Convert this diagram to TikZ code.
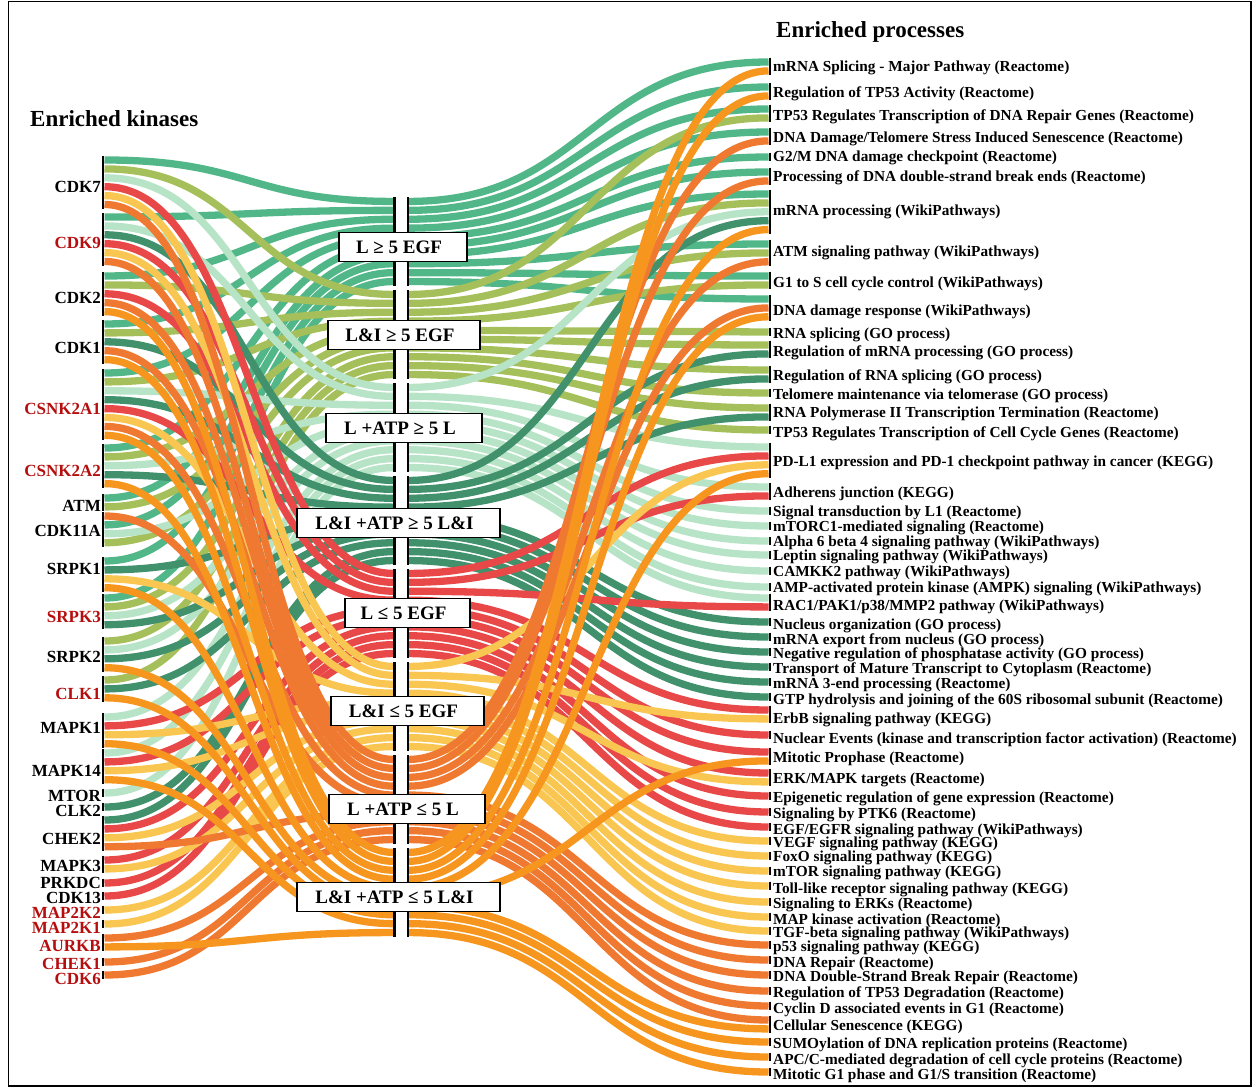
\documentclass[tikz,border=0pt]{standalone}
\usepackage{fontspec}
\setmainfont{Liberation Serif}

\pgfdeclarelayer{l1}\pgfdeclarelayer{l2}\pgfdeclarelayer{l3}\pgfdeclarelayer{l4}
\pgfdeclarelayer{l5}\pgfdeclarelayer{l6}\pgfdeclarelayer{l7}\pgfdeclarelayer{l8}
\pgfsetlayers{l1,l2,l3,l4,l5,l6,l7,l8,main}

% category colours
\definecolor{cat1}{RGB}{82,183,136}   % L >= 5 EGF
\definecolor{cat2}{RGB}{165,192,90}   % L&I >= 5 EGF
\definecolor{cat3}{RGB}{183,228,199}  % L +ATP >= 5 L
\definecolor{cat4}{RGB}{64,145,108}   % L&I +ATP >= 5 L&I
\definecolor{cat5}{RGB}{233,72,72}    % L <= 5 EGF
\definecolor{cat6}{RGB}{249,198,82}   % L&I <= 5 EGF
\definecolor{cat7}{RGB}{240,121,50}   % L +ATP <= 5 L
\definecolor{cat8}{RGB}{247,150,30}   % L&I +ATP <= 5 L&I
\definecolor{kred}{RGB}{182,14,14}

% geometry
\def\sp{8.9}\def\half{4.45}
\def\xL{104.5}\def\xML{394}\def\xMR{408}\def\xR{768.5}
\def\dxL{144.75}\def\dxR{180.25}
\foreach \q in {1,...,8}{%
  \pgfmathsetmacro\t{197+(\q-1)*93}%
  \expandafter\xdef\csname top\q\endcsname{\t}%
  \expandafter\xdef\csname nL\q\endcsname{0}%
  \expandafter\xdef\csname nR\q\endcsname{0}%
}

\tikzset{
  flow/.style={line width=7.3pt},
  axisline/.style={line width=2.6pt,black},
  klabel/.style={anchor=east,inner sep=0pt,yshift=-1pt,font=\bfseries\fontsize{17}{17}\selectfont},
  plabel/.style={anchor=west,inner sep=0pt,yshift=-1.5pt,font=\bfseries\fontsize{15.3}{15.3}\selectfont},
  header/.style={anchor=west,inner sep=0pt,font=\bfseries\fontsize{23}{23}\selectfont},
  catbox/.style={draw=black,line width=1.8pt,fill=white,minimum height=29pt,
    inner sep=0pt,font=\bfseries\fontsize{19}{19}\selectfont},
}

% kinase: id, text colour, label, label y, first flow y, categories
\newcommand\kin[6]{%
  \foreach \q [count=\i from 0] in {#6}{%
    \pgfmathsetmacro\ya{#5+\i*\sp}%
    \edef\nidx{\csname nL\q\endcsname}%
    \edef\topv{\csname top\q\endcsname}%
    \pgfmathsetmacro\yb{\topv+\half+\nidx*\sp}%
    \coordinate (#1-\i) at (\xL,\ya);
    \coordinate (mL\q-\nidx) at (\xML,\yb);
    \begin{pgfonlayer}{l\q}
      \draw[flow,draw=cat\q] (#1-\i) .. controls +(\dxL,0) and +(-\dxL,0) .. (mL\q-\nidx);
    \end{pgfonlayer}
    \pgfmathtruncatemacro\nn{\nidx+1}%
    \expandafter\xdef\csname nL\q\endcsname{\nn}%
    \xdef\klast{\i}%
  }
  \pgfmathsetmacro\ytop{#5-\half}%
  \pgfmathsetmacro\ybot{#5+\klast*\sp+\half}%
  \draw[axisline] (103,\ytop) -- (103,\ybot);
  \node[klabel,text=#2] (#1) at (101,#4) {#3};
}

% process: id, label, label y, first flow y, categories
\newcommand\proc[5]{%
  \foreach \q [count=\i from 0] in {#5}{%
    \pgfmathsetmacro\yb{#4+\i*\sp}%
    \edef\nidx{\csname nR\q\endcsname}%
    \edef\topv{\csname top\q\endcsname}%
    \pgfmathsetmacro\ya{\topv+\half+\nidx*\sp}%
    \coordinate (mR\q-\nidx) at (\xMR,\ya);
    \coordinate (#1-\i) at (\xR,\yb);
    \begin{pgfonlayer}{l\q}
      \draw[flow,draw=cat\q] (mR\q-\nidx) .. controls +(\dxR,0) and +(-\dxR,0) .. (#1-\i);
    \end{pgfonlayer}
    \pgfmathtruncatemacro\nn{\nidx+1}%
    \expandafter\xdef\csname nR\q\endcsname{\nn}%
    \xdef\klast{\i}%
  }
  \pgfmathsetmacro\ytop{#4-\half}%
  \pgfmathsetmacro\ybot{#4+\klast*\sp+\half}%
  \draw[axisline] (770,\ytop) -- (770,\ybot);
  \node[plabel] (#1) at (773,#3) {#2};
}

\begin{document}
\begin{tikzpicture}[x=1pt,y=-1pt]
\useasboundingbox (0,0) rectangle (1258,1089);
\draw[line width=1.5pt] (8.5,1.5) rectangle (1251,1086);

\node[header] (hk) at (30,119) {Enriched kinases};
\node[header] (hp) at (776,32) {Enriched processes};

% kinases
\kin{k1}{black}{CDK7}{186}{160}{1,2,3,5,6,7}
\kin{k2}{kred}{CDK9}{242}{217}{1,3,4,5,6,7}
\kin{k3}{black}{CDK2}{297}{276}{1,2,5,7,8}
\kin{k4}{black}{CDK1}{347}{324}{1,2,4,7,8}
\kin{k5}{kred}{CSNK2A1}{408}{373}{1,2,3,4,5,6,7,8}
\kin{k6}{kred}{CSNK2A2}{470}{448}{1,2,3,4,8}
\kin{k7}{black}{ATM}{505}{498}{1,2}
\kin{k8}{black}{CDK11A}{530}{516}{7,1,3,2}
\kin{k9}{black}{SRPK1}{568}{561}{1,4,6,8}
\kin{k10}{kred}{SRPK3}{616}{598}{1,2,3,4}
\kin{k11}{black}{SRPK2}{656}{641}{2,3,4,8}
\kin{k12}{kred}{CLK1}{693}{680}{2,4,8}
\kin{k13}{black}{MAPK1}{727}{717}{3,5,6,8}
\kin{k14}{black}{MAPK14}{770}{753}{3,5,6,8}
\kin{k15}{black}{MTOR}{795}{793}{3}
\kin{k16}{black}{CLK2}{810}{807}{4}
\kin{k17}{black}{CHEK2}{838}{820}{4,5,6,7}
\kin{k18}{black}{MAPK3}{865}{860}{5,6}
\kin{k19}{black}{PRKDC}{882}{883}{5}
\kin{k20}{black}{CDK13}{897}{896}{5}
\kin{k21}{kred}{MAP2K2}{912}{910}{6}
\kin{k22}{kred}{MAP2K1}{927}{924}{6}
\kin{k23}{kred}{AURKB}{945}{938}{7,8}
\kin{k24}{kred}{CHEK1}{963}{962}{7}
\kin{k25}{kred}{CDK6}{978}{975}{7}

% processes
\proc{p1}{mRNA Splicing - Major Pathway (Reactome)}{66}{62}{1,8}
\proc{p2}{Regulation of TP53 Activity (Reactome)}{92}{87}{1,8}
\proc{p3}{TP53 Regulates Transcription of DNA Repair Genes (Reactome)}{115}{109}{1,2}
\proc{p4}{DNA Damage/Telomere Stress Induced Senescence (Reactome)}{137}{132}{1,7}
\proc{p5}{G2/M DNA damage checkpoint (Reactome)}{156}{157}{1}
\proc{p6}{Processing of DNA double-strand break ends (Reactome)}{176}{172}{1,7}
\proc{p7}{mRNA processing (WikiPathways)}{210}{194}{1,2,3,4,8}
\proc{p8}{ATM signaling pathway (WikiPathways)}{251}{244}{1,2,7}
\proc{p9}{G1 to S cell cycle control (WikiPathways)}{282}{276}{1,2}
\proc{p10}{DNA damage response (WikiPathways)}{310}{299}{1,7,8}
\proc{p11}{RNA splicing (GO process)}{333}{332}{2}
\proc{p12}{Regulation of mRNA processing (GO process)}{351}{345}{2,4}
\proc{p13}{Regulation of RNA splicing (GO process)}{375}{370}{2,4}
\proc{p14}{Telomere maintenance via telomerase (GO process)}{394}{393}{2}
\proc{p15}{RNA Polymerase II Transcription Termination (Reactome)}{412}{408}{2,4}
\proc{p16}{TP53 Regulates Transcription of Cell Cycle Genes (Reactome)}{432}{430}{2}
\proc{p17}{PD-L1 expression and PD-1 checkpoint pathway in cancer (KEGG)}{461}{447}{3,5,6,8}
\proc{p18}{Adherens junction (KEGG)}{492}{487}{3,5}
\proc{p19}{Signal transduction by L1 (Reactome)}{511}{511}{3}
\proc{p20}{mTORC1-mediated signaling (Reactome)}{526}{526}{3}
\proc{p21}{Alpha 6 beta 4 signaling pathway (WikiPathways)}{541}{541}{3}
\proc{p22}{Leptin signaling pathway (WikiPathways)}{555}{555}{3}
\proc{p23}{CAMKK2 pathway (WikiPathways)}{571}{571}{3}
\proc{p24}{AMP-activated protein kinase (AMPK) signaling (WikiPathways)}{587}{587}{3}
\proc{p25}{RAC1/PAK1/p38/MMP2 pathway (WikiPathways)}{605}{598}{3,5}
\proc{p26}{Nucleus organization (GO process)}{624}{622}{4}
\proc{p27}{mRNA export from nucleus (GO process)}{639}{637}{4}
\proc{p28}{Negative regulation of phosphatase activity (GO process)}{653}{652}{4}
\proc{p29}{Transport of Mature Transcript to Cytoplasm (Reactome)}{668}{667}{4}
\proc{p30}{mRNA 3-end processing (Reactome)}{683}{682}{4}
\proc{p31}{GTP hydrolysis and joining of the 60S ribosomal subunit (Reactome)}{699}{697}{4}
\proc{p32}{ErbB signaling pathway (KEGG)}{718}{710}{5,6}
\proc{p33}{Nuclear Events (kinase and transcription factor activation) (Reactome)}{738}{735}{5}
\proc{p34}{Mitotic Prophase (Reactome)}{757}{752}{5,8}
\proc{p35}{ERK/MAPK targets (Reactome)}{778}{773}{5,6}
\proc{p36}{Epigenetic regulation of gene expression (Reactome)}{797}{796}{5}
\proc{p37}{Signaling by PTK6 (Reactome)}{813}{812}{5}
\proc{p38}{EGF/EGFR signaling pathway (WikiPathways)}{829}{827}{5}
\proc{p39}{VEGF signaling pathway (KEGG)}{842}{841}{6}
\proc{p40}{FoxO signaling pathway (KEGG)}{856}{856}{6}
\proc{p41}{mTOR signaling pathway (KEGG)}{871}{871}{6}
\proc{p42}{Toll-like receptor signaling pathway (KEGG)}{888}{886}{6}
\proc{p43}{Signaling to ERKs (Reactome)}{903}{902}{6}
\proc{p44}{MAP kinase activation (Reactome)}{919}{917}{6}
\proc{p45}{TGF-beta signaling pathway (WikiPathways)}{932}{931}{6}
\proc{p46}{p53 signaling pathway (KEGG)}{946}{945}{7}
\proc{p47}{DNA Repair (Reactome)}{962}{960}{7}
\proc{p48}{DNA Double-Strand Break Repair (Reactome)}{976}{975}{7}
\proc{p49}{Regulation of TP53 Degradation (Reactome)}{992}{991}{7}
\proc{p50}{Cyclin D associated events in G1 (Reactome)}{1008}{1006}{7}
\proc{p51}{Cellular Senescence (KEGG)}{1025}{1020}{7,8}
\proc{p52}{SUMOylation of DNA replication proteins (Reactome)}{1043}{1042}{8}
\proc{p53}{APC/C-mediated degradation of cell cycle proteins (Reactome)}{1059}{1057}{8}
\proc{p54}{Mitotic G1 phase and G1/S transition (Reactome)}{1074}{1072}{8}

% middle axis: one segment per category
\foreach \q in {1,...,8}{%
  \pgfmathsetmacro\ta{197+(\q-1)*93}%
  \pgfmathsetmacro\tb{\ta+89}%
  \draw[line width=2.7pt] (394.7,\ta) -- (394.7,\tb);
  \draw[line width=2.7pt] (408,\ta) -- (408,\tb);
}

% category labels
\node[catbox,minimum width=128pt] (c1) at (403,247) {\hspace*{-8pt}L ≥ 5 EGF};
\node[catbox,minimum width=152pt] (c2) at (404,335) {\hspace*{-8pt}L\&I ≥ 5 EGF};
\node[catbox,minimum width=156pt] (c3) at (404,428) {\hspace*{-8pt}L +ATP ≥ 5 L};
\node[catbox,minimum width=203pt] (c4) at (398.5,523) {\hspace*{-8pt}L\&I +ATP ≥ 5 L\&I};
\node[catbox,minimum width=125pt] (c5) at (407.5,613) {\hspace*{-8pt}L ≤ 5 EGF};
\node[catbox,minimum width=153pt] (c6) at (407.5,711) {\hspace*{-8pt}L\&I ≤ 5 EGF};
\node[catbox,minimum width=156pt] (c7) at (407,809) {\hspace*{-8pt}L +ATP ≤ 5 L};
\node[catbox,minimum width=203pt] (c8) at (398.5,897) {\hspace*{-8pt}L\&I +ATP ≤ 5 L\&I};
\end{tikzpicture}
\end{document}
